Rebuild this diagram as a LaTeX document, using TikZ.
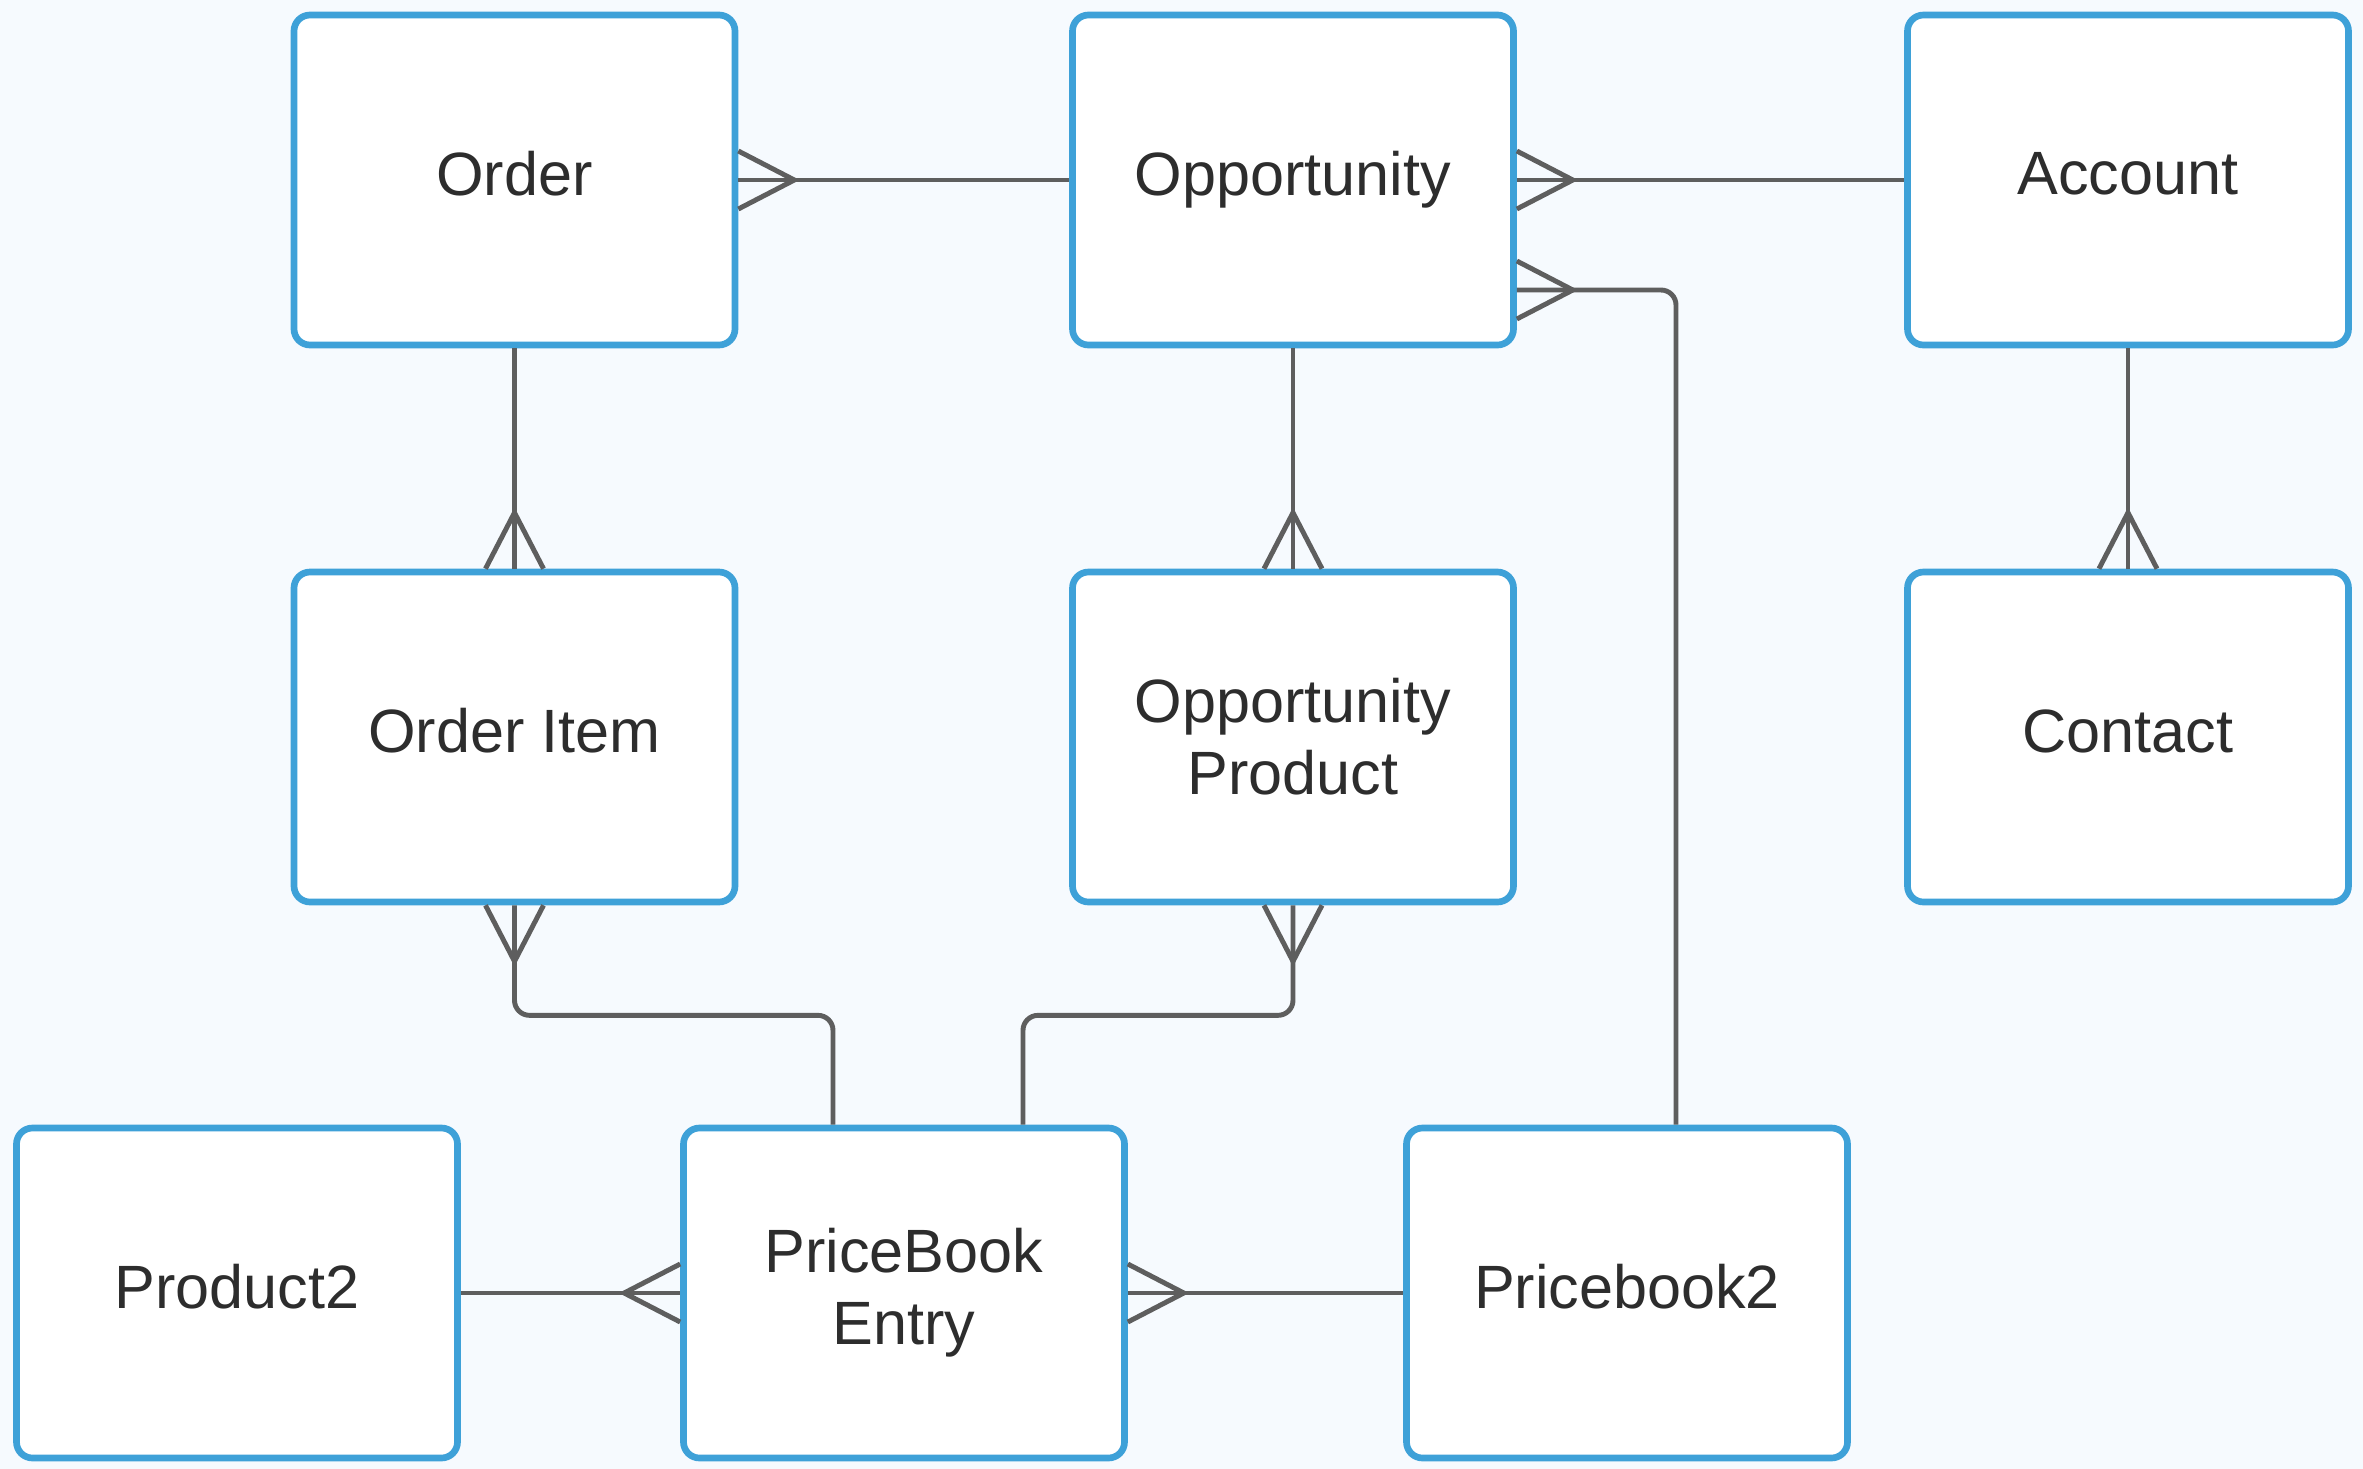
\documentclass[tikz,border=0pt]{standalone}
\usepackage{fontspec}
\setmainfont{Liberation Sans}
\usetikzlibrary{calc}

\definecolor{fundo}{RGB}{246,250,254}
\definecolor{borda}{RGB}{62,161,216}
\definecolor{linha}{RGB}{94,94,94}
\definecolor{texto}{RGB}{45,45,45}

\tikzset{
  entidade/.style={draw=borda, line width=1.9pt, fill=white, rounded corners=0.16cm,
    minimum width=4.41cm, minimum height=3.30cm, align=center, text=texto,
    font=\fontsize{17.4}{20.5}\selectfont},
  ligacao/.style={draw=linha, line width=1.4pt, rounded corners=0.15cm},
  pata/.style={draw=linha, line width=1.4pt, sharp corners},
}

% pe de galinha: #1 = ponto na borda, #2 = angulo para fora
\newcommand\pe[2]{\path[pata] ($(#1)+(#2+90:0.29)$) -- ($(#1)+(#2:0.56)$) -- ($(#1)+(#2-90:0.29)$);}

\begin{document}
\begin{tikzpicture}

% Fundo
\path[fill=fundo] (0,0) rectangle (23.63,-14.69);
\useasboundingbox (0,0) rectangle (23.63,-14.69);

% Primeira linha
\node (order) [entidade] at (5.145,-1.80) {Order\vphantom{y}};
\node (opportunity) [entidade] at (12.93,-1.80) {Opportunity};
\node (account) [entidade] at (21.28,-1.80) {Account\vphantom{y}};

% Segunda linha
\node (orderitem) [entidade] at (5.145,-7.37) {Order Item\vphantom{y}};
\node (oppproduct) [entidade] at (12.93,-7.37) {Opportunity\\Product};
\node (contact) [entidade] at (21.28,-7.37) {Contact\vphantom{y}};

% Terceira linha
\node (product2) [entidade] at (2.37,-12.93) {Product2\vphantom{y}};
\node (pbentry) [entidade] at (9.04,-12.93) {PriceBook\\Entry};
\node (pricebook2) [entidade] at (16.27,-12.93) {Pricebook2\vphantom{y}};

% Pontos auxiliares
\coordinate (opp-pb) at ([yshift=-1.1cm]opportunity.east);
\coordinate (pb-opp) at ([xshift=0.49cm]pricebook2.north);
\coordinate (pbe-oi) at ([xshift=-0.71cm]pbentry.north);
\coordinate (pbe-op) at ([xshift=1.19cm]pbentry.north);

% Ligacoes horizontais
\path[ligacao] (order) -- (opportunity);
\pe{order.east}{0}
\path[ligacao] (opportunity) -- (account);
\pe{opportunity.east}{0}
\path[ligacao] (product2) -- (pbentry);
\pe{pbentry.west}{180}
\path[ligacao] (pbentry) -- (pricebook2);
\pe{pbentry.east}{0}

% Ligacoes verticais
\path[ligacao] (order) -- (orderitem);
\pe{orderitem.north}{90}
\path[ligacao] (opportunity) -- (oppproduct);
\pe{oppproduct.north}{90}
\path[ligacao] (account) -- (contact);
\pe{contact.north}{90}

% Ligacoes com cotovelo
\path[ligacao] (opp-pb) -| (pb-opp);
\pe{opp-pb}{0}
\path[ligacao] (orderitem.south) -- ++(0,-1.10) -| (pbe-oi);
\pe{orderitem.south}{-90}
\path[ligacao] (oppproduct.south) -- ++(0,-1.10) -| (pbe-op);
\pe{oppproduct.south}{-90}

\end{tikzpicture}
\end{document}
